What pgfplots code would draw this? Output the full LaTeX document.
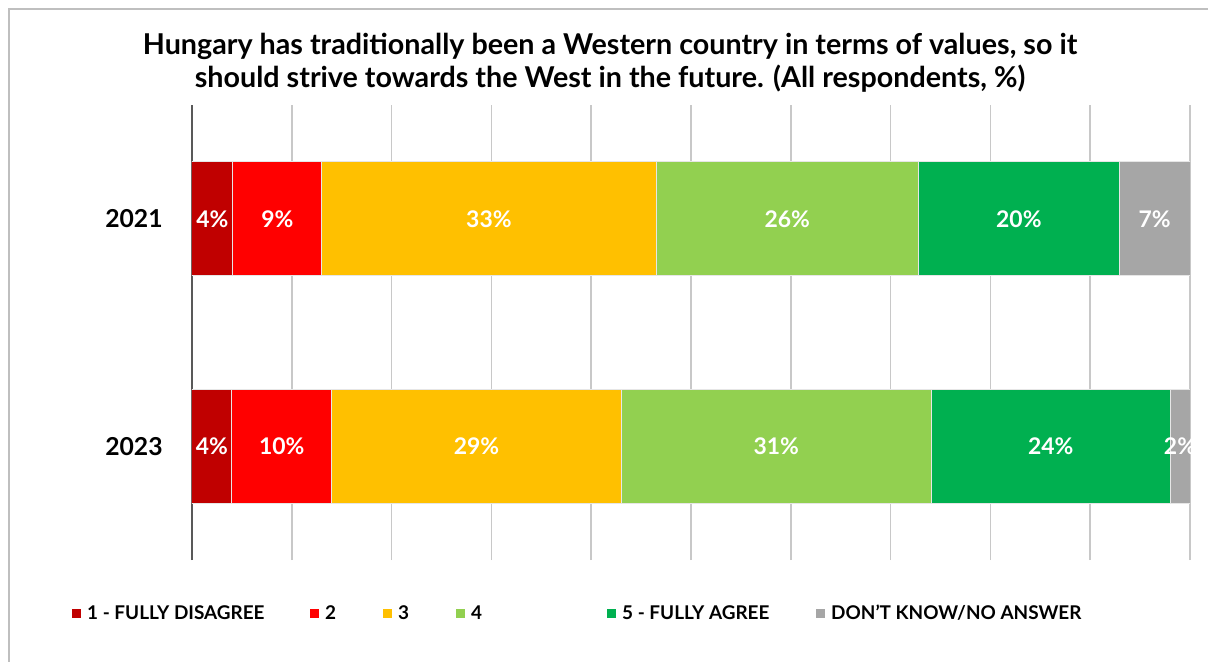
\documentclass[border=0pt]{standalone}
\usepackage{pgfplots}
\pgfplotsset{compat=1.18}
\usepackage{fontspec}
\setmainfont{Lato}
\definecolor{c1}{HTML}{C00000}
\definecolor{c2}{HTML}{FF0000}
\definecolor{c3}{HTML}{FFC000}
\definecolor{c4}{HTML}{92D050}
\definecolor{c5}{HTML}{00B050}
\definecolor{c6}{HTML}{A6A6A6}
\definecolor{gridgray}{HTML}{C8C8C8}
\definecolor{axisgray}{HTML}{595959}
\definecolor{framegray}{HTML}{BFBFBF}
\definecolor{sepc}{HTML}{E6E6E6}
\pgfplotsset{sqlegend/.style={legend image code/.code={\fill[##1,draw=none] (0bp,-2.2bp) rectangle (4.4bp,2.2bp);}}}
\begin{document}
\begin{tikzpicture}
\useasboundingbox (-96bp,-51bp) rectangle (508bp,280bp);
\draw[framegray, line width=0.9bp] (-91.5bp,-70bp) -- (-91.5bp,275.5bp) -- (530bp,275.5bp);
\node[align=center, font=\bfseries\fontsize{14.4}{16.5}\selectfont] at (209bp,248.5bp)
  {Hungary has traditionally been a Western country in terms of values, so it\\should strive towards the West in the future. (All respondents, \%)};
\begin{axis}[
  at={(0,0)}, anchor=south west,
  scale only axis, width=499bp, height=227.5bp,
  xbar stacked, bar width=57bp,
  xmin=0, xmax=100, ymin=-0.5, ymax=1.5,
  xtick={0,10,...,100}, xticklabels={},
  xmajorgrids, grid style={color=gridgray, line width=0.75bp},
  ytick={0,1}, yticklabels={2023,2021},
  axis lines*=left,
  x axis line style={draw=none},
  y axis line style={draw=axisgray, line width=1.1bp},
  tick style={draw=none},
  yticklabel style={font=\bfseries\fontsize{12.4}{12.4}\selectfont, inner sep=0pt, xshift=-14.5bp},
  point meta=explicit,
  /pgf/number format/assume math mode=true,
  nodes near coords={\pgfmathprintnumber[fixed,precision=0]{\pgfplotspointmeta}\%},
  every node near coord/.append style={anchor=center, text=white, font=\bfseries\fontsize{11.5}{11.5}\selectfont},
  legend columns=6,
  legend style={at={(-0.1202,-0.118)}, anchor=west, draw=none, fill=none, inner sep=0pt,
    font=\bfseries\fontsize{9.5}{9.5}\selectfont, nodes={inner sep=0pt},
    /tikz/every odd column/.append style={column sep=3bp},
    /tikz/every even column/.append style={column sep=0bp}},
]
\addplot[fill=c1, draw=sepc, line width=0.5bp, sqlegend] coordinates {(4.1,1) [4] (4.0,0) [4]};
\addlegendentry{\makebox[111.6bp][l]{1 - FULLY DISAGREE}}
\addplot[fill=c2, draw=sepc, line width=0.5bp, sqlegend] coordinates {(8.9,1) [9] (10.0,0) [10]};
\addlegendentry{\makebox[29.1bp][l]{2}}
\addplot[fill=c3, draw=sepc, line width=0.5bp, sqlegend] coordinates {(33.5,1) [33] (29.0,0) [29]};
\addlegendentry{\makebox[29.1bp][l]{3}}
\addplot[fill=c4, draw=sepc, line width=0.5bp, sqlegend] coordinates {(26.3,1) [26] (31.1,0) [31]};
\addlegendentry{\makebox[68.1bp][l]{4}}
\addplot[fill=c5, draw=sepc, line width=0.5bp, sqlegend] coordinates {(20.1,1) [20] (23.9,0) [24]};
\addlegendentry{\makebox[97.1bp][l]{5 - FULLY AGREE}}
\addplot[fill=c6, draw=sepc, line width=0.5bp, sqlegend] coordinates {(7.1,1) [7] (2.0,0) [2]};
\addlegendentry{DON'T KNOW/NO ANSWER}
\end{axis}
\end{tikzpicture}
\end{document}
